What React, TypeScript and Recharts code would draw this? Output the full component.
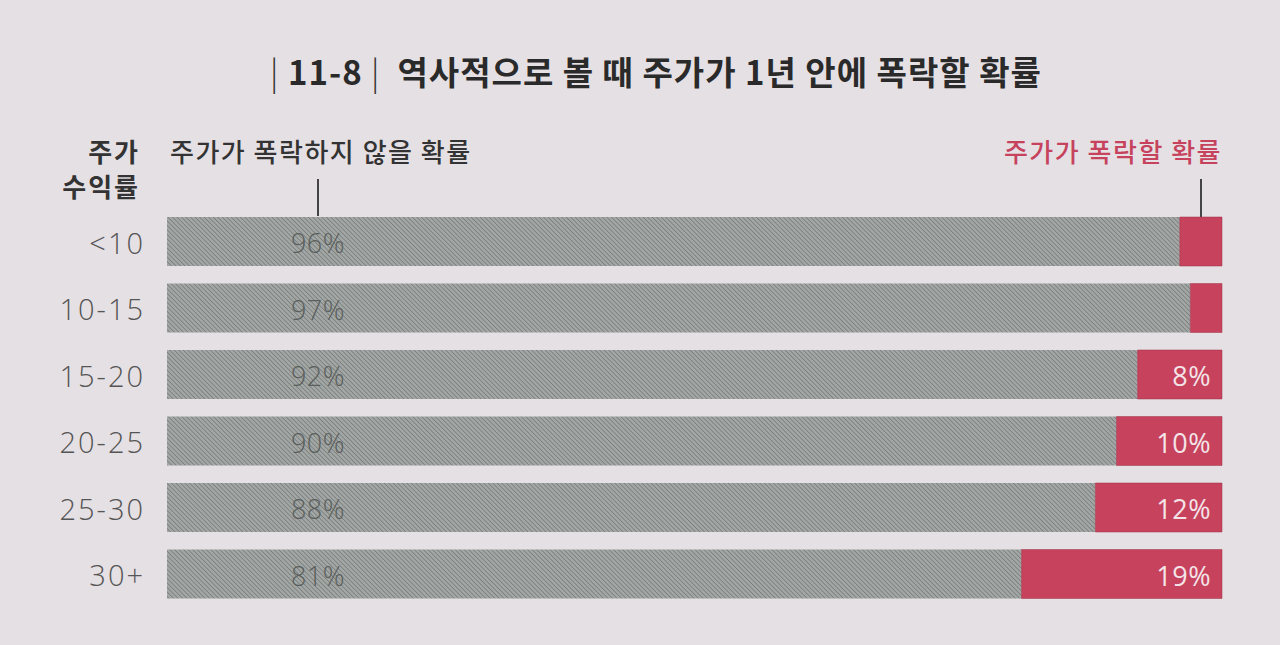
import { BarChart, Bar, XAxis, YAxis, LabelList } from "recharts";

const categories = ["<10", "10-15", "15-20", "20-25", "25-30", "30+"];
const safeValues = [96, 97, 92, 90, 88, 81];
const crashValues = [4, 3, 8, 10, 12, 19];
const crashLabels = ["", "", "8%", "10%", "12%", "19%"];

const data = categories.map((c, i) => ({
  name: c,
  safe: safeValues[i],
  crash: crashValues[i],
  crashLabel: crashLabels[i],
}));

const FONT = "'Noto Sans CJK KR', 'Noto Sans', sans-serif";
const NUM_FONT = "'Open Sans', 'Noto Sans', sans-serif";
const BG = "#e5e0e4";
const RED = "#c6425d";

const SafeLabel = (props: any) => {
  const { x, y, height, value } = props;
  return (
    <text
      x={x + 151}
      y={y + height / 2 + 1}
      textAnchor="middle"
      dominantBaseline="central"
      fontSize={27}
      fontFamily={NUM_FONT}
      fill="#5a5e5c"
      fontWeight={300}
      letterSpacing={0.5}
    >
      {value}%
    </text>
  );
};

const CrashLabel = (props: any) => {
  const { x, y, width, height, value } = props;
  if (!value) return null;
  return (
    <text
      x={x + width - 11}
      y={y + height / 2 + 1}
      textAnchor="end"
      dominantBaseline="central"
      fontSize={27}
      fontFamily={NUM_FONT}
      fill="#f4e4e8"
      fontWeight={400}
      letterSpacing={0.5}
    >
      {value}
    </text>
  );
};

const CategoryTick = (props: any) => {
  const { x, y, payload } = props;
  return (
    <text
      x={x - 14}
      y={y + 1}
      textAnchor="end"
      dominantBaseline="central"
      fontSize={29}
      fontFamily={NUM_FONT}
      fill="#555"
      fontWeight={300}
      letterSpacing={2}
    >
      {payload.value}
    </text>
  );
};

export default function App() {
  return (
    <div
      style={{
        position: "fixed",
        left: 0,
        top: 0,
        width: 1280,
        height: 645,
        background: BG,
        fontFamily: FONT,
        overflow: "hidden",
      }}
    >
      <div
        style={{
          position: "absolute",
          left: 0,
          width: 1312,
          top: 47,
          textAlign: "center",
          fontSize: 33,
          fontWeight: 700,
          color: "#2a2a2a",
          whiteSpace: "pre",
          letterSpacing: 1,
        }}
      >
        <span style={{ fontWeight: 300, color: "#333" }}>|</span> 11-8 <span style={{ fontWeight: 300, color: "#333" }}>|</span>  역사적으로 볼 때 주가가 1년 안에 폭락할 확률
      </div>

      <div
        style={{
          position: "absolute",
          left: 30,
          width: 110,
          top: 133,
          textAlign: "right",
          fontSize: 26,
          fontWeight: 700,
          lineHeight: "35px",
          color: "#333",
          letterSpacing: 2,
        }}
      >
        주가
        <br />
        수익률
      </div>

      <div
        style={{
          position: "absolute",
          left: 170,
          top: 133,
          fontSize: 26,
          fontWeight: 500,
          lineHeight: "35px",
          color: "#333",
          letterSpacing: 1.5,
        }}
      >
        주가가 폭락하지 않을 확률
      </div>
      <div style={{ position: "absolute", left: 317, top: 179, width: 1.5, height: 37, background: "#444" }} />

      <div
        style={{
          position: "absolute",
          right: 58,
          top: 133,
          fontSize: 26,
          fontWeight: 500,
          lineHeight: "35px",
          color: RED,
          letterSpacing: 1.5,
        }}
      >
        주가가 폭락할 확률
      </div>
      <div style={{ position: "absolute", left: 1200, top: 179, width: 1.5, height: 38, background: "#444" }} />

      <BarChart
        width={1280}
        height={645}
        data={data}
        layout="vertical"
        margin={{ top: 208, right: 58, bottom: 38, left: 0 }}
        barSize={49}
      >
        <defs>
          <pattern id="hatch" width="3.2" height="3.2" patternUnits="userSpaceOnUse" patternTransform="rotate(-45)">
            <rect width="3.2" height="3.2" fill="#a2a6a4" />
            <line x1="0" y1="0" x2="0" y2="3.2" stroke="#6b706e" strokeWidth="1.2" />
          </pattern>
        </defs>
        <XAxis type="number" domain={[0, 100]} hide />
        <YAxis
          type="category"
          dataKey="name"
          width={167}
          axisLine={false}
          tickLine={false}
          tick={<CategoryTick />}
        />
        <Bar dataKey="safe" stackId="a" fill="url(#hatch)" isAnimationActive={false}>
          <LabelList dataKey="safe" content={<SafeLabel />} />
        </Bar>
        <Bar dataKey="crash" stackId="a" fill={RED} stroke="#9e3049" strokeWidth={0.5} isAnimationActive={false}>
          <LabelList dataKey="crashLabel" content={<CrashLabel />} />
        </Bar>
      </BarChart>
    </div>
  );
}
